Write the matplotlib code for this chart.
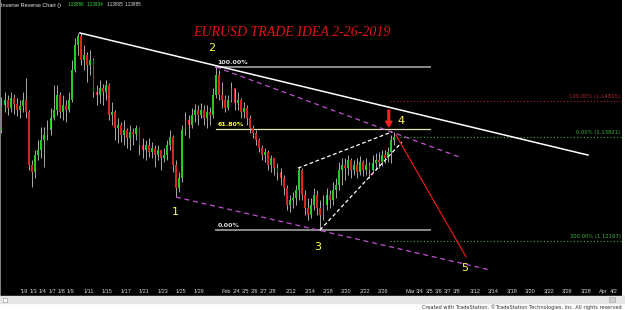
import matplotlib
matplotlib.use("Agg")
import matplotlib.pyplot as plt
import numpy as np
from matplotlib.patches import Rectangle

# candle data (one bar every third of a trading day, first bar at day -2.5)
opens = [1.1401, 1.1470, 1.1484, 1.1462, 1.1490, 1.1473, 1.1456, 1.1467, 1.1484, 1.1451,
         1.1305, 1.1285, 1.1332, 1.1346, 1.1374, 1.1387, 1.1401, 1.1434, 1.1456, 1.1498,
         1.1451, 1.1470, 1.1456, 1.1484, 1.1567, 1.1636, 1.1661, 1.1594, 1.1608, 1.1581,
         1.1594, 1.1506, 1.1498, 1.1517, 1.1506, 1.1525, 1.1443, 1.1451, 1.1407, 1.1415,
         1.1387, 1.1401, 1.1379, 1.1396, 1.1390, 1.1407, 1.1360, 1.1346, 1.1360, 1.1341,
         1.1352, 1.1332, 1.1346, 1.1324, 1.1332, 1.1360, 1.1382, 1.1305, 1.1241, 1.1269,
         1.1401, 1.1429, 1.1415, 1.1443, 1.1456, 1.1443, 1.1456, 1.1434, 1.1451, 1.1443,
         1.1498, 1.1553, 1.1498, 1.1484, 1.1462, 1.1484, 1.1517, 1.1476, 1.1484, 1.1451,
         1.1462, 1.1434, 1.1407, 1.1393, 1.1374, 1.1352, 1.1332, 1.1341, 1.1305, 1.1324,
         1.1296, 1.1285, 1.1269, 1.1241, 1.1194, 1.1208, 1.1214, 1.1236, 1.1291, 1.1222,
         1.1186, 1.1167, 1.1194, 1.1222, 1.1186, 1.1167, 1.1194, 1.1222, 1.1208, 1.1236,
         1.1249, 1.1291, 1.1305, 1.1296, 1.1318, 1.1291, 1.1305, 1.1285, 1.1313, 1.1291,
         1.1305, 1.1291, 1.1310, 1.1318, 1.1313, 1.1332, 1.1324, 1.1341, 1.1374]
highs = [1.1492, 1.1506, 1.1498, 1.1506, 1.1501, 1.1490, 1.1484, 1.1506, 1.1545, 1.1456,
         1.1318, 1.1346, 1.1374, 1.1410, 1.1410, 1.1429, 1.1462, 1.1525, 1.1525, 1.1506,
         1.1498, 1.1484, 1.1506, 1.1594, 1.1655, 1.1669, 1.1669, 1.1636, 1.1617, 1.1622,
         1.1600, 1.1525, 1.1539, 1.1528, 1.1539, 1.1531, 1.1478, 1.1456, 1.1434, 1.1423,
         1.1429, 1.1407, 1.1415, 1.1407, 1.1415, 1.1410, 1.1379, 1.1374, 1.1379, 1.1368,
         1.1360, 1.1360, 1.1346, 1.1352, 1.1374, 1.1401, 1.1387, 1.1318, 1.1285, 1.1415,
         1.1451, 1.1443, 1.1462, 1.1473, 1.1470, 1.1476, 1.1470, 1.1470, 1.1465, 1.1517,
         1.1575, 1.1567, 1.1534, 1.1498, 1.1498, 1.1534, 1.1517, 1.1506, 1.1490, 1.1478,
         1.1470, 1.1443, 1.1415, 1.1401, 1.1379, 1.1360, 1.1352, 1.1346, 1.1332, 1.1324,
         1.1310, 1.1296, 1.1277, 1.1249, 1.1222, 1.1230, 1.1249, 1.1299, 1.1296, 1.1236,
         1.1214, 1.1214, 1.1241, 1.1236, 1.1208, 1.1222, 1.1241, 1.1236, 1.1258, 1.1269,
         1.1313, 1.1324, 1.1324, 1.1332, 1.1324, 1.1318, 1.1324, 1.1329, 1.1318, 1.1324,
         1.1313, 1.1332, 1.1338, 1.1341, 1.1346, 1.1346, 1.1354, 1.1387, 1.1396]
lows = [1.1393, 1.1451, 1.1443, 1.1451, 1.1445, 1.1440, 1.1434, 1.1451, 1.1434, 1.1291,
        1.1244, 1.1269, 1.1318, 1.1324, 1.1299, 1.1374, 1.1387, 1.1429, 1.1443, 1.1434,
        1.1429, 1.1423, 1.1451, 1.1478, 1.1561, 1.1608, 1.1581, 1.1567, 1.1534, 1.1553,
        1.1492, 1.1470, 1.1476, 1.1470, 1.1484, 1.1429, 1.1415, 1.1374, 1.1365, 1.1368,
        1.1360, 1.1352, 1.1346, 1.1360, 1.1374, 1.1332, 1.1324, 1.1318, 1.1327, 1.1324,
        1.1299, 1.1318, 1.1291, 1.1313, 1.1318, 1.1346, 1.1285, 1.1216, 1.1230, 1.1258,
        1.1387, 1.1379, 1.1407, 1.1423, 1.1415, 1.1434, 1.1415, 1.1407, 1.1415, 1.1434,
        1.1490, 1.1484, 1.1462, 1.1451, 1.1456, 1.1478, 1.1456, 1.1456, 1.1434, 1.1434,
        1.1415, 1.1393, 1.1379, 1.1360, 1.1341, 1.1318, 1.1313, 1.1291, 1.1285, 1.1277,
        1.1263, 1.1249, 1.1222, 1.1180, 1.1175, 1.1186, 1.1194, 1.1208, 1.1208, 1.1167,
        1.1153, 1.1158, 1.1180, 1.1167, 1.1125, 1.1153, 1.1180, 1.1186, 1.1194, 1.1214,
        1.1236, 1.1249, 1.1263, 1.1277, 1.1269, 1.1277, 1.1269, 1.1277, 1.1274, 1.1277,
        1.1269, 1.1285, 1.1291, 1.1296, 1.1302, 1.1310, 1.1313, 1.1310, 1.1360]
closes = [1.1470, 1.1484, 1.1462, 1.1490, 1.1473, 1.1456, 1.1467, 1.1484, 1.1451, 1.1305,
          1.1285, 1.1332, 1.1346, 1.1374, 1.1387, 1.1401, 1.1434, 1.1456, 1.1498, 1.1451,
          1.1470, 1.1456, 1.1484, 1.1567, 1.1636, 1.1661, 1.1594, 1.1608, 1.1581, 1.1594,
          1.1506, 1.1498, 1.1517, 1.1506, 1.1525, 1.1443, 1.1451, 1.1407, 1.1415, 1.1387,
          1.1401, 1.1379, 1.1396, 1.1390, 1.1407, 1.1360, 1.1346, 1.1360, 1.1341, 1.1352,
          1.1332, 1.1346, 1.1324, 1.1332, 1.1360, 1.1382, 1.1305, 1.1241, 1.1269, 1.1401,
          1.1429, 1.1415, 1.1443, 1.1456, 1.1443, 1.1456, 1.1434, 1.1451, 1.1443, 1.1498,
          1.1553, 1.1498, 1.1484, 1.1462, 1.1484, 1.1517, 1.1476, 1.1484, 1.1451, 1.1462,
          1.1434, 1.1407, 1.1393, 1.1374, 1.1352, 1.1332, 1.1341, 1.1305, 1.1324, 1.1296,
          1.1285, 1.1269, 1.1241, 1.1194, 1.1208, 1.1214, 1.1236, 1.1291, 1.1222, 1.1186,
          1.1167, 1.1194, 1.1222, 1.1186, 1.1167, 1.1194, 1.1222, 1.1208, 1.1236, 1.1249,
          1.1291, 1.1305, 1.1296, 1.1318, 1.1291, 1.1305, 1.1285, 1.1313, 1.1291, 1.1305,
          1.1291, 1.1310, 1.1318, 1.1313, 1.1332, 1.1324, 1.1341, 1.1374, 1.1382]

# date axis (trading days from Jan 2 2019)
tick_days = [0, 1, 2, 3, 4, 5, 7, 9, 11, 13, 15, 17, 19, 23, 24, 25, 26, 27, 29, 31,
             33, 35, 37, 39, 43, 44, 45, 46, 47, 49, 51, 53, 55, 57, 59, 61, 64]
tick_labels = ["'19", "1/3", "1/4", "1/7", "1/8", "1/9", "1/11", "1/15", "1/17", "1/21",
               "1/23", "1/25", "1/29", "2/4", "2/5", "2/6", "2/7", "2/8", "2/12", "2/14",
               "2/18", "2/20", "2/22", "2/26", "3/4", "3/5", "3/6", "3/7", "3/8", "3/12",
               "3/14", "3/18", "3/20", "3/22", "3/26", "3/28", "4/2"]
month_days = [23, 43, 64]
month_names = ["Feb", "Mar", "Apr"]

# elliott wave labels
wave_names = ["1", "2", "3", "4", "5"]
wave_days = [16.4, 20.3, 31.9, 40.9, 47.8]
wave_prices = [1.1175, 1.1628, 1.1078, 1.1426, 1.1020]

# fibonacci retracement
fib_high = 1.1575
fib_low = 1.1125
fib_ratios = [1.0, 0.618, 0.0]
fib_names = ["100.00%", "61.80%", "0.00%"]

# extension levels on the right
ext_levels = [1.14815, 1.13821, 1.1095]
ext_names = ["100.00% (1.14815)", "0.00% (1.13821)", "300.00% (1.12167)"]

# drawn lines (trading day, price)
trend_days, trend_prices = [6.03, 61.25], [1.1669, 1.1332]
upper_days, upper_prices = [20.8, 47.55], [1.1575, 1.1324]
lower_days, lower_prices = [16.47, 50.6], [1.1216, 1.1015]
wtop_days, wtop_prices = [29.73, 39.95], [1.1296, 1.1396]
wbot_days, wbot_prices = [32.12, 41.03], [1.1125, 1.1368]
target_days, target_prices = [40.38, 48.0], [1.1387, 1.1051]

W, H = 625, 310


def fx(x):
    return x / W


def fy(y):
    return 1 - y / H


fig = plt.figure(figsize=(6.25, 3.1), dpi=100, facecolor="white")
ax = fig.add_axes([0, fy(296), fx(622), 296 / H])
ax.set_facecolor("black")
ax.set_xlim(-2.66, 64.95)
ax.set_ylim(1.0943, 1.1760)

x = -2.5 + np.arange(len(closes)) / 3
o = np.array(opens)
c = np.array(closes)
colors = np.where(c > o, "#22cc22", np.where(c < o, "#dd2222", "#b0b0b0"))
ax.vlines(x, lows, highs, color="#a8a8a8", lw=0.7, zorder=2)
ax.bar(x, np.where(c == o, 0.00004, c - o), bottom=o, width=0.2, color=colors, zorder=3)

# fib retracement lines
fib_col = ["#8a8a8a", "#e4e4b8", "#8a8a8a"]
fib_lw = [1.4, 0.9, 1.4]
fib_txt = ["#e0e0e0", "#ffff30", "#e0e0e0"]
for r, n, lc, lw, tc in zip(fib_ratios, fib_names, fib_col, fib_lw, fib_txt):
    lvl = fib_low + r * (fib_high - fib_low)
    ax.plot([20.8, 44.1], [lvl, lvl], color=lc, lw=lw, zorder=1)
    ax.text(21.0, lvl + 0.0006, n, color=tc, fontsize=4.6, fontweight="bold",
            ha="left", va="bottom", zorder=5)

# extension levels
ext_col = ["#b02828", "#3cb43c", "#3cb43c"]
for lvl, n, col in zip(ext_levels, ext_names, ext_col):
    ax.plot([39.7, 64.95], [lvl, lvl], color=col, lw=0.8, ls=(0, (1, 2)), zorder=1)
    ax.text(64.8, lvl + 0.0004, n, color=col, fontsize=3.8, ha="right", va="bottom")

# trend lines
ax.plot(trend_days, trend_prices, color="white", lw=1.1, zorder=4)
ax.plot(upper_days, upper_prices, color="#c050d0", lw=0.9, ls=(0, (4, 3)), zorder=4)
ax.plot(lower_days, lower_prices, color="#c050d0", lw=0.9, ls=(0, (4, 3)), zorder=4)
ax.plot(wtop_days, wtop_prices, color="white", lw=0.9, ls=(0, (3, 2)), zorder=4)
ax.plot(wbot_days, wbot_prices, color="white", lw=0.9, ls=(0, (3, 2)), zorder=4)
ax.plot(target_days, target_prices, color="#e01818", lw=0.9, zorder=4)

# arrow above wave 4
ax.annotate("", xy=(39.6, 1.1410), xytext=(39.6, 1.1456),
            arrowprops=dict(color="#ff2020", width=1.2, headwidth=4.5, headlength=4))

for n, d, p in zip(wave_names, wave_days, wave_prices):
    ax.text(d, p, n, color="#ffff40", fontsize=8, ha="center", va="center", zorder=6)

ax.set_xticks(tick_days)
ax.set_xticklabels(tick_labels, family="Liberation Sans")
ax.set_xticks([d - 1.1 for d in month_days], minor=True)
ax.set_xticklabels(month_names, minor=True, family="Liberation Sans")
ax.tick_params(axis="x", which="both", length=0, pad=-5, labelsize=4.0, colors="#d8d8d8")
ax.set_yticks([])
for s in ["top", "right", "bottom"]:
    ax.spines[s].set_visible(False)
ax.spines["left"].set_color("#9a9a9a")
ax.spines["left"].set_linewidth(1.2)

# header and title
fig.text(fx(1), fy(5), "Inverse Reverse Chart ()", color="#e8e8e8", fontsize=4.0,
         family="Liberation Sans", va="center")
hdr_vals = ["1.13886", "1.13934", "1.13865", "1.13885"]
hdr_x = [68, 87, 107, 125]
hdr_c = ["#40e040", "#40e040", "#e8e8e8", "#e8e8e8"]
for v, hx, hc in zip(hdr_vals, hdr_x, hdr_c):
    fig.text(fx(hx), fy(5), v, color=hc, fontsize=3.3, family="Liberation Sans",
             va="center")

fig.text(fx(292), fy(33), "EURUSD TRADE IDEA 2-26-2019", color="#e01414", fontsize=10,
         family="Liberation Serif", style="italic", ha="center", va="center")

# bottom strip
fig.patches.append(Rectangle((0, fy(303)), 1, 7 / H, transform=fig.transFigure,
                             color="#e6e6e6", zorder=0))
fig.patches.append(Rectangle((fx(3), fy(302)), 4 / W, 4 / H, transform=fig.transFigure,
                             facecolor="white", edgecolor="#909090", lw=0.4))
fig.patches.append(Rectangle((fx(609), fy(302)), 6 / W, 5 / H, transform=fig.transFigure,
                             facecolor="#d0d0d0", edgecolor="#a0a0a0", lw=0.4))
fig.text(fx(622), fy(307), "Created with TradeStation. \u00a9TradeStation Technologies, Inc. All rights reserved",
         color="#303030", fontsize=3.6, ha="right", va="center")

fig.savefig("out.png", dpi=100, facecolor="white")
